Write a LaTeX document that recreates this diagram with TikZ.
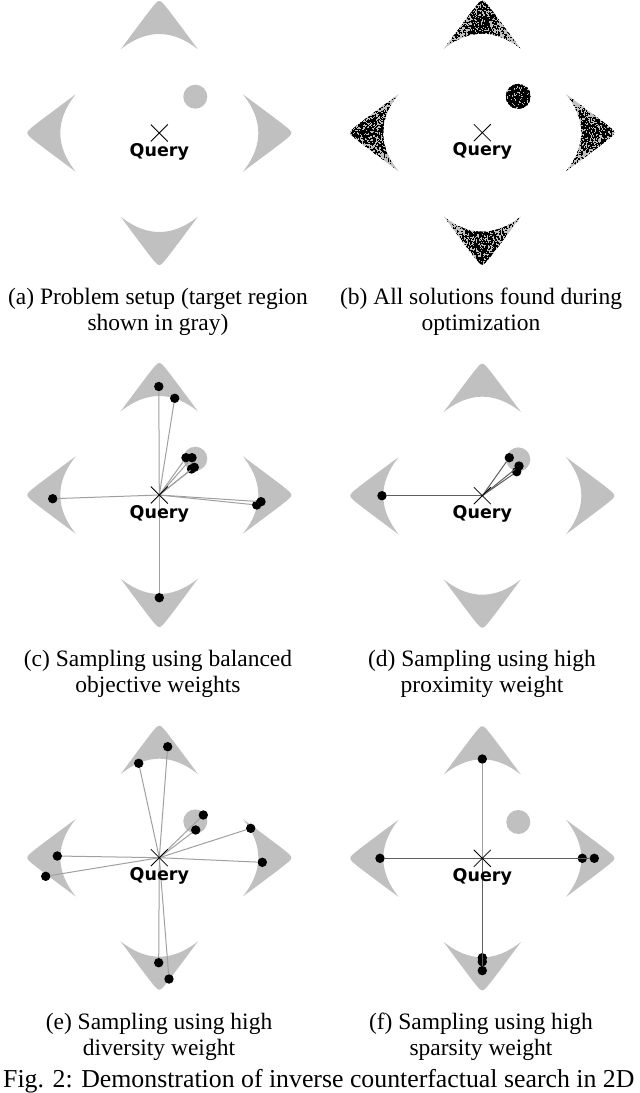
\documentclass[tikz,border=0pt]{standalone}
\usepackage{fontspec}
\setmainfont{Liberation Serif}
\newfontfamily\qfont{DejaVu Sans}
\definecolor{regiongray}{RGB}{192,192,192}
\definecolor{linkgray}{RGB}{160,160,160}
\definecolor{darklinkgray}{RGB}{95,95,95}
\tikzset{
  regionfill/.style={fill=regiongray, draw=none},
  soldot/.style={circle, fill=black, draw=none, inner sep=0pt, minimum size=9.4pt},
  linkline/.style={draw=linkgray, line width=1pt},
  darklink/.style={draw=darklinkgray, line width=1pt},
  crossline/.style={draw=black, line width=0.8pt},
  qlabel/.style={font=\qfont\bfseries\fontsize{17.5}{20}\selectfont, anchor=base, inner sep=0pt},
  captext/.style={font=\fontsize{23.5}{26}\selectfont, anchor=base, inner sep=0pt},
  speck/.style={fill=black, draw=none}
}
\newcommand\regionpath{plot[domain=-38.6:38.6,samples=61] (\x,{136-sqrt(16+1.8225*\x*\x)}) -- plot[domain=38.6:-38.6,samples=31] (\x,{99-0.01027*\x*\x}) -- cycle}
\newcommand\grayregions[1]{%
  \foreach \a in {0,90,180,270}{\fill[regionfill, shift={(#1)}, rotate=\a] \regionpath;}
  \fill[regionfill, shift={(#1)}] (36,36.3) circle (12);}
\newcommand\querymark[1]{%
  \draw[crossline] (#1) +(-8.5,-8.5) -- +(8.5,8.5) (#1) +(-8.5,8.5) -- +(8.5,-8.5);
  \node[qlabel] (#1lab) at ([yshift=-23pt]#1) {Query};}
\begin{document}
\begin{tikzpicture}[x=1pt,y=1pt]
\useasboundingbox (0,0) rectangle (640,-1093);
\fill[white] (0,0) rectangle (640,-1093);
% ---------- (a)
\coordinate (qa) at (159.3,-133);
\grayregions{qa}
\querymark{qa}
% ---------- (b)
\coordinate (qb) at (482.3,-132.7);
\pgfmathsetseed{7}
\begin{scope}[shift={(qb)}]
  \foreach \a in {0,90,180,270}{
    \begin{scope}[rotate=\a]
      \fill[regionfill] \regionpath;
      \clip \regionpath;
      \foreach \i in {1,...,1600}{
        \pgfmathsetmacro\ptx{19.5*(rand+rand)}
        \pgfmathsetmacro\pty{108+25*rand}
        \fill[speck] (\ptx-0.65,\pty-0.65) rectangle +(1.3,1.3);
      }
    \end{scope}
  }
  \fill[regionfill] (36,36.3) circle (12.5);
  \begin{scope}
    \clip (36,36.3) circle (12.5);
    \foreach \i in {1,...,700}{
      \pgfmathsetmacro\ptx{36+12.5*rand}
      \pgfmathsetmacro\pty{36.3+12.5*rand}
      \fill[speck] (\ptx-0.65,\pty-0.65) rectangle +(1.3,1.3);
    }
  \end{scope}
\end{scope}
\querymark{qb}
% ---------- (c)
\coordinate (qc) at (159.3,-495);
\grayregions{qc}
\begin{scope}[shift={(qc)}]
  \node[soldot] (c1) at (-0.5,108.5) {};
  \node[soldot] (c2) at (15.4,96.7) {};
  \node[soldot] (c3) at (26.7,37.3) {};
  \node[soldot] (c4) at (32.7,37.3) {};
  \node[soldot] (c5) at (35,27.7) {};
  \node[soldot] (c6) at (32.2,26) {};
  \node[soldot] (c7) at (-106.6,-3.7) {};
  \node[soldot] (c8) at (97.4,-10) {};
  \node[soldot] (c9) at (101.7,-6.7) {};
  \node[soldot] (c10) at (0,-102.7) {};
\end{scope}
\foreach \n in {c1,c2,c3,c4,c5,c6,c7,c8,c9,c10}{\draw[linkline] (qc) -- (\n);}
\querymark{qc}
% ---------- (d)
\coordinate (qd) at (482.3,-495.7);
\grayregions{qd}
\begin{scope}[shift={(qd)}]
  \node[soldot] (d1) at (-100.3,0) {};
  \node[soldot] (d2) at (27,38) {};
  \node[soldot] (d3) at (36.7,29.7) {};
  \node[soldot] (d4) at (34.4,24) {};
\end{scope}
\foreach \n in {d1,d2,d3,d4}{\draw[darklink] (qd) -- (\n);}
\querymark{qd}
% ---------- (e)
\coordinate (qe) at (159.3,-857.7);
\grayregions{qe}
\begin{scope}[shift={(qe)}]
  \node[soldot] (e1) at (8.4,111) {};
  \node[soldot] (e2) at (-20.6,94.4) {};
  \node[soldot] (e3) at (44,42.7) {};
  \node[soldot] (e4) at (36.4,27.7) {};
  \node[soldot] (e5) at (91.4,29.4) {};
  \node[soldot] (e6) at (103,-4.6) {};
  \node[soldot] (e7) at (-102,1.7) {};
  \node[soldot] (e8) at (-113.6,-18.6) {};
  \node[soldot] (e9) at (-0.6,-105) {};
  \node[soldot] (e10) at (9.7,-121.3) {};
\end{scope}
\foreach \n in {e1,e2,e3,e4,e5,e6,e7,e8,e9,e10}{\draw[linkline] (qe) -- (\n);}
\querymark{qe}
% ---------- (f)
\coordinate (qf) at (482.3,-858.3);
\grayregions{qf}
\begin{scope}[shift={(qf)}]
  \node[soldot] (f1) at (0,99.3) {};
  \node[soldot] (f2) at (-102.3,0) {};
  \node[soldot] (f3) at (100,0) {};
  \node[soldot] (f4) at (112,0) {};
  \node[soldot] (f5) at (0,-99.4) {};
  \node[soldot] (f6) at (0,-103.4) {};
  \node[soldot] (f7) at (0,-112.3) {};
\end{scope}
\draw[linkline] (qf) -- (f1);
\foreach \n in {f2,f3,f4,f5,f6,f7}{\draw[darklink] (qf) -- (\n);}
\querymark{qf}
% ---------- captions
\node[captext] (capa1) at (158,-304) {(a) Problem setup (target region};
\node[captext] (capa2) at (158,-330) {shown in gray)};
\node[captext] (capb1) at (481,-304) {(b) All solutions found during};
\node[captext] (capb2) at (481,-330) {optimization};
\node[captext] (capc1) at (158,-666.5) {(c) Sampling using balanced};
\node[captext] (capc2) at (158,-692.5) {objective weights};
\node[captext] (capd1) at (482,-666.5) {(d) Sampling using high};
\node[captext] (capd2) at (482,-692.5) {proximity weight};
\node[captext] (cape1) at (159,-1029) {(e) Sampling using high};
\node[captext] (cape2) at (159,-1055) {diversity weight};
\node[captext] (capf1) at (481,-1029) {(f) Sampling using high};
\node[captext] (capf2) at (481,-1055) {sparsity weight};
\node[captext, anchor=base west, font=\fontsize{25.8}{28}\selectfont] (fig) at (3,-1087) {Fig. 2: Demonstration of inverse counterfactual search in 2D};
\end{tikzpicture}
\end{document}
